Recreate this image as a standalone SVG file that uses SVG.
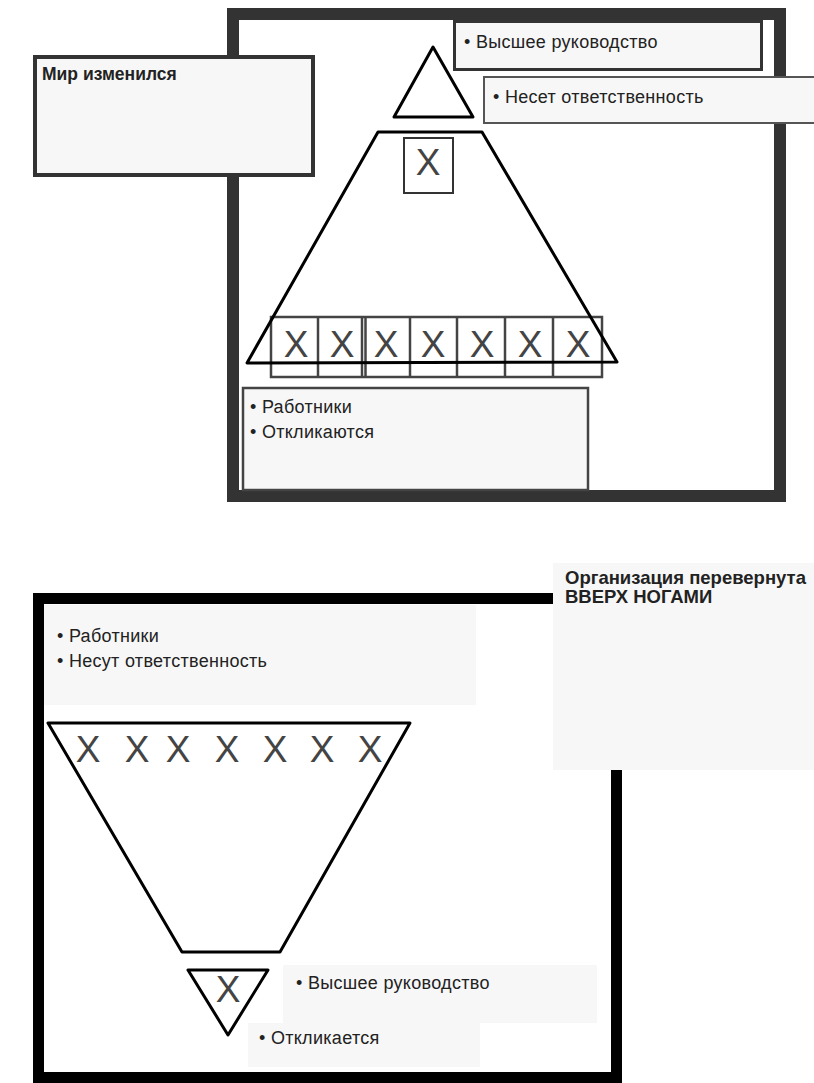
<svg xmlns="http://www.w3.org/2000/svg" width="814" height="1083" viewBox="0 0 814 1083">
<style>
.t{font-family:"Liberation Sans",Arial,sans-serif;font-size:18px;letter-spacing:0.3px;fill:#222}
.b{font-family:"Liberation Sans",Arial,sans-serif;font-weight:bold;fill:#222}
.x{font-family:"Liberation Sans",Arial,sans-serif;font-size:37px;fill:#444;text-anchor:middle}
.shape{fill:none;stroke:#000;stroke-width:3;stroke-linejoin:round}
.box{fill:#f7f7f7}
</style>
<rect width="814" height="1083" fill="#fff"/>
<g id="top-frame">
<rect x="233" y="14" width="547" height="482" fill="#fff" stroke="#333" stroke-width="12"/>
</g>
<g id="world-changed">
<rect x="35" y="57" width="278" height="118" class="box" stroke="#333" stroke-width="4"/>
<text class="b" x="42" y="80" font-size="17.5">Мир изменился</text>
</g>
<g id="top-management-top">
<rect x="454.5" y="21.5" width="307" height="48" class="box" stroke="#333" stroke-width="3"/>
<text class="t" x="464" y="48" xml:space="preserve">• Высшее руководство</text>
</g>
<g id="responsible-top">
<rect x="484" y="77" width="332" height="46" class="box" stroke="#555" stroke-width="2"/>
<text class="t" x="493" y="103" xml:space="preserve">• Несет ответственность</text>
</g>
<g id="top-triangle">
<polygon class="shape" points="433,47 473,117 394,117" stroke-width="3.5"/>
</g>
<g id="top-x-box">
<rect x="404" y="138" width="49" height="55" fill="#fff" stroke="#333" stroke-width="2"/>
<text class="x" x="428" y="175" font-size="36">X</text>
</g>
<g id="workers-row">
<rect x="271" y="317" width="331" height="60" fill="#fff" stroke="#444" stroke-width="2.5"/>
<g stroke="#444" stroke-width="2.5">
<line x1="318" y1="317" x2="318" y2="377"/>
<line x1="362" y1="317" x2="362" y2="377"/>
<line x1="365.5" y1="317" x2="365.5" y2="377"/>
<line x1="410" y1="317" x2="410" y2="377"/>
<line x1="457" y1="317" x2="457" y2="377"/>
<line x1="505" y1="317" x2="505" y2="377"/>
<line x1="553" y1="317" x2="553" y2="377"/>
</g>
<text class="x" x="296" y="357">X</text>
<text class="x" x="342" y="357">X</text>
<text class="x" x="386" y="357">X</text>
<text class="x" x="433" y="357">X</text>
<text class="x" x="482" y="357">X</text>
<text class="x" x="530" y="357">X</text>
<text class="x" x="578" y="357">X</text>
</g>
<g id="top-trapezoid">
<polygon class="shape" points="378,132 482,132 617,362 247,363"/>
</g>
<g id="workers-respond">
<rect x="243" y="388" width="345" height="102" class="box" stroke="#444" stroke-width="2.5"/>
<text class="t" x="250" y="413" xml:space="preserve">• Работники</text>
<text class="t" x="250" y="438" xml:space="preserve">• Откликаются</text>
</g>
<g id="bottom-frame">
<rect x="38.5" y="598.5" width="578" height="479" fill="#fff" stroke="#000" stroke-width="11"/>
</g>
<g id="workers-responsible">
<rect x="44" y="605" width="432" height="100" class="box"/>
<text class="t" x="57" y="642" xml:space="preserve">• Работники</text>
<text class="t" x="57" y="667" xml:space="preserve">• Несут ответственность</text>
</g>
<g id="upside-down">
<rect x="553" y="563" width="261" height="207" class="box"/>
<text class="b" x="565" y="584" font-size="18.5">Организация перевернута</text>
<text class="b" x="565" y="603" font-size="18.5">ВВЕРХ НОГАМИ</text>
</g>
<g id="bottom-trapezoid">
<polygon class="shape" points="48,723 410,723 280,952 182,952"/>
<text class="x" x="88" y="762">X</text>
<text class="x" x="137" y="762">X</text>
<text class="x" x="178" y="762">X</text>
<text class="x" x="227" y="762">X</text>
<text class="x" x="275" y="762">X</text>
<text class="x" x="322" y="762">X</text>
<text class="x" x="370" y="762">X</text>
</g>
<g id="bottom-triangle">
<polygon class="shape" points="188,970 268,970 228,1035" stroke-width="3.5"/>
<text class="x" x="228" y="1002" font-size="34">X</text>
</g>
<g id="top-management-bottom">
<rect x="283" y="965" width="314" height="58" class="box"/>
<text class="t" x="296" y="989" xml:space="preserve">• Высшее руководство</text>
</g>
<g id="responds-bottom">
<rect x="248" y="1023" width="232" height="44" class="box"/>
<text class="t" x="259" y="1044" xml:space="preserve">• Откликается</text>
</g>
<g id="connectors"/>
</svg>
